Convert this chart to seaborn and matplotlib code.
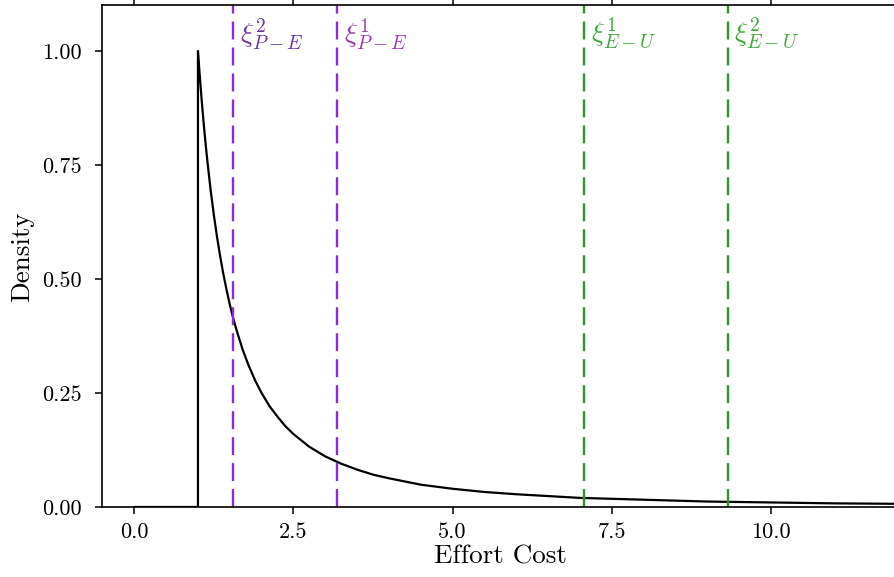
import matplotlib
matplotlib.use("Agg")
import matplotlib.pyplot as plt
import seaborn as sns
import pandas as pd

# curve
effort = [0.0, 1.0, 1.0, 1.025, 1.05, 1.075, 1.1, 1.125, 1.15, 1.2, 1.25, 1.3,
          1.35, 1.4, 1.45, 1.5, 1.55, 1.6, 1.7, 1.8, 1.9, 2.0, 2.125, 2.25,
          2.375, 2.5, 2.75, 3.0, 3.25, 3.5, 3.75, 4.0, 4.5, 5.0, 5.5, 6.0,
          7.0, 8.0, 9.0, 10.0, 11.0, 12.0]
density = [0.0, 0.0, 1.0, 0.952, 0.907, 0.865, 0.826, 0.790, 0.756, 0.694,
           0.64, 0.592, 0.549, 0.51, 0.476, 0.444, 0.416, 0.391, 0.346, 0.309,
           0.277, 0.25, 0.221, 0.198, 0.177, 0.16, 0.132, 0.111, 0.095, 0.082,
           0.071, 0.063, 0.049, 0.04, 0.033, 0.028, 0.02, 0.016, 0.012, 0.01,
           0.008, 0.007]

# thresholds
pe_pos = [1.555, 3.19]
pe_labels = [r"$\xi^{2}_{P-E}$", r"$\xi^{1}_{P-E}$"]
pe_text_colors = ["#6c33a6", "#9a38b0"]
eu_pos = [7.07, 9.32]
eu_labels = [r"$\xi^{1}_{E-U}$", r"$\xi^{2}_{E-U}$"]

df = pd.DataFrame({"Effort Cost": effort, "Density": density})

sns.set_style("ticks")
plt.rcParams["font.family"] = "serif"
plt.rcParams["font.serif"] = ["cmr10", "DejaVu Serif"]
plt.rcParams["mathtext.fontset"] = "cm"
plt.rcParams["axes.formatter.use_mathtext"] = True
plt.rcParams["axes.unicode_minus"] = False

fig = plt.figure(figsize=(8.95, 5.77), dpi=100)
ax = fig.add_axes([0.1145, 0.1213, 0.889, 0.8693])

sns.lineplot(data=df, x="Effort Cost", y="Density", sort=False, estimator=None,
             color="black", linewidth=1.6, ax=ax)

for x, lab, tc in zip(pe_pos, pe_labels, pe_text_colors):
    ax.axvline(x, color="#8a2be2", linewidth=1.7, linestyle=(0, (7.6, 3.4)))
    ax.text(x + 0.1, 1.077, lab, color=tc, fontsize=20, va="top", ha="left")
for x, lab in zip(eu_pos, eu_labels):
    ax.axvline(x, color="#2a9a2a", linewidth=1.7, linestyle=(0, (7.6, 3.4)))
    ax.text(x + 0.1, 1.077, lab, color="#3aa63a", fontsize=20, va="top", ha="left")

ax.set_xlim(-0.5, 12)
ax.set_ylim(0, 1.1)
ax.set_xticks([0, 2.5, 5.0, 7.5, 10.0])
ax.set_yticks([0, 0.25, 0.5, 0.75, 1.0])
ax.set_xticklabels(["0.0", "2.5", "5.0", "7.5", "10.0"])
ax.set_yticklabels(["0.00", "0.25", "0.50", "0.75", "1.00"])
ax.tick_params(axis="both", labelsize=16, length=5, width=1.1, direction="out",
               color="black", labelcolor="black")
ax.tick_params(axis="x", top=True, pad=6)
ax.tick_params(axis="y", pad=10)
ax.set_xlabel("Effort Cost", fontsize=19.5, labelpad=2, color="black")
ax.set_ylabel("Density", fontsize=19.5, labelpad=6, color="black")
for s in ax.spines.values():
    s.set_linewidth(1.2)
    s.set_color("black")

fig.savefig("out.png", dpi=100)
